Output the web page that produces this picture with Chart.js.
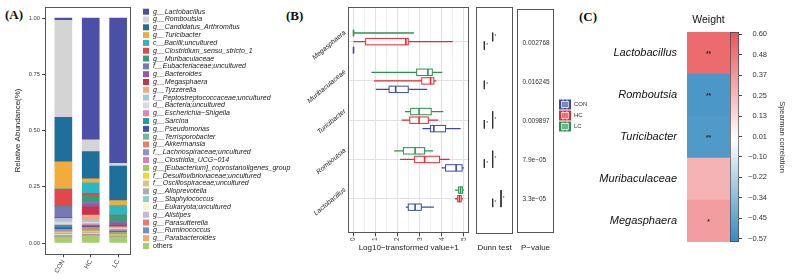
<!DOCTYPE html>
<html>
<head>
<meta charset="utf-8">
<script src="https://cdn.jsdelivr.net/npm/chart.js@4.4.1/dist/chart.umd.min.js"></script>
<style>
body { margin: 0; background: #fff; width: 792px; height: 280px; overflow: hidden; position: relative; }
canvas { position: absolute; top: 0; }
.tag { position: absolute; font: bold 13px "Liberation Serif", "Times New Roman", serif; line-height: 13px; color: #111; }
</style>
</head>
<body>
<div class="tag" style="left:5px;top:8px">(A)</div>
<div class="tag" style="left:286px;top:9px">(B)</div>
<div class="tag" style="left:579px;top:10px">(C)</div>
<canvas id="stack" width="300" height="280" style="left:0"></canvas>
<canvas id="box" width="215" height="280" style="left:260px"></canvas>
<canvas id="dunn" width="45" height="280" style="left:470px"></canvas>
<canvas id="pval" width="100" height="280" style="left:505px"></canvas>
<canvas id="heat" width="140" height="280" style="left:595px"></canvas>
<canvas id="cbar" width="67" height="280" style="left:725px"></canvas>
<script>
// ---------- (A) relative abundance ----------
const taxa = ["g__Lactobacillus", "g__Romboutsia", "g__Candidatus_Arthromitus", "g__Turicibacter",
	"c__Bacilli;uncultured", "g__Clostridium_sensu_stricto_1", "g__Muribaculaceae",
	"f__Eubacteriaceae;uncultured", "g__Bacteroides", "g__Megasphaera", "g__Tyzzerella",
	"f__Peptostreptococcaceae;uncultured", "d__Bacteria;uncultured", "g__Escherichia\u2212Shigella",
	"g__Sarcina", "g__Pseudomonas", "g__Terrisporobacter", "g__Akkermansia",
	"f__Lachnospiraceae;uncultured", "g__Clostridia_UCG\u2212014", "g__[Eubacterium]_coprostanoligenes_group",
	"f__Desulfovibrionaceae;uncultured", "f__Oscillospiraceae;uncultured", "g__Alloprevotella",
	"g__Staphylococcus", "d__Eukaryota;uncultured", "g__Alistipes", "g__Parasutterella",
	"g__Ruminococcus", "g__Parabacteroides", "others"];
const taxaColors = ["#4B4FA6", "#D4D4D4", "#1F6F9C", "#F3AC3C", "#2BB6C3", "#E2474A", "#3D9B73",
	"#7679B8", "#8E5C9F", "#C9334F", "#F1A87C", "#A2C8DC", "#DADADA", "#E584AB", "#21A09B",
	"#3E56A9", "#6FBA9C", "#EE7F5C", "#8E92D0", "#D97DBB", "#9CCB5C", "#F2D23F", "#D8C28E",
	"#ADADAD", "#89D0C9", "#F7F4C8", "#BBB9DE", "#EE766B", "#6E8EC6", "#F6A863", "#A3CF6C"];
const conAbund = [0.010, 0.431, 0.198, 0.120, 0.002, 0.075, 0.003, 0.046, 0.003, 0.002, 0.002,
	0.015, 0.012, 0.002, 0.010, 0.008, 0.003, 0.002, 0.003, 0.002, 0.004, 0.002, 0.003, 0.002,
	0.003, 0.002, 0.003, 0.002, 0.003, 0.003, 0.024];
const hcAbund = [0.542, 0.052, 0.121, 0.018, 0.046, 0.013, 0.024, 0.011, 0.012, 0.037, 0.022,
	0.010, 0.007, 0.007, 0.005, 0.004, 0.004, 0.004, 0.003, 0.003, 0.004, 0.003, 0.003, 0.002,
	0.002, 0.002, 0.002, 0.002, 0.002, 0.002, 0.031];
const lcAbund = [0.646, 0.012, 0.154, 0.022, 0.042, 0.005, 0.025, 0.004, 0.012, 0.006, 0.004,
	0.004, 0.003, 0.008, 0.003, 0.003, 0.003, 0.001, 0.001, 0.003, 0.003, 0.002, 0.002, 0.002,
	0.001, 0.001, 0.001, 0.001, 0.001, 0.001, 0.024];
const sampleGroups = ["CON", "HC", "LC"];
const abundTicks = [0, 0.25, 0.5, 0.75, 1];

// ---------- (B) boxplots, Dunn test, p-values ----------
const genera = ["Megasphaera", "Muribaculaceae", "Turicibacter", "Romboutsia", "Lactobacillus"];
const groups = ["CON", "HC", "LC"];
const groupColors = ["#3C4C9E", "#E12B31", "#2A924F"];
// [min, q1, median, q3, max] for each genus, in the order of `genera`
const conStats = [[0, 0, 0, 0, 0], [1.01, 1.61, 1.91, 2.48, 3.34], [3.12, 3.49, 3.64, 4.17, 4.85],
	[3.99, 4.17, 4.65, 4.92, 5.0], [2.37, 2.48, 2.79, 3.07, 3.64]];
const hcStats = [[0, 0.55, 2.37, 2.48, 4.5], [0.93, 3.09, 3.49, 3.64, 3.75], [2.18, 2.55, 2.97, 3.39, 3.84],
	[2.11, 2.77, 3.22, 3.9, 4.35], [4.6, 4.72, 4.8, 4.88, 4.95]];
const lcStats = [[0, 0, 0, 0, 2.74], [0.81, 2.86, 3.37, 3.57, 4.02], [2.33, 2.59, 2.97, 3.52, 4.07],
	[1.84, 2.26, 2.79, 3.22, 3.6], [4.6, 4.76, 4.85, 4.94, 5.0]];
const xTicksB = [0, 0.5, 1, 1.5, 2, 2.5, 3, 3.5, 4, 4.5, 5];
// Dunn test brackets: genus index, bracket level, compared groups (index into `groups`), mark
const dunnTests = [
	{ genus: 0, level: 2, from: 2, to: 1, mark: "*" },
	{ genus: 0, level: 1, from: 1, to: 0, mark: "*" },
	{ genus: 1, level: 1, from: 1, to: 0, mark: "*" },
	{ genus: 2, level: 1, from: 1, to: 0, mark: "*" },
	{ genus: 2, level: 2, from: 2, to: 0, mark: "*" },
	{ genus: 3, level: 1, from: 1, to: 0, mark: "*" },
	{ genus: 3, level: 2, from: 2, to: 0, mark: "*" },
	{ genus: 4, level: 2, from: 1, to: 0, mark: "*" },
	{ genus: 4, level: 3, from: 2, to: 0, mark: "*" },
];
const pValues = ["0.002768", "0.016245", "0.009897", "7.9e\u221205", "3.3e\u221205"];

// ---------- (C) Spearman heatmap ----------
const heatRows = ["Lactobacillus", "Romboutsia", "Turicibacter", "Muribaculaceae", "Megasphaera"];
const heatValues = [0.53, -0.52, -0.51, 0.27, 0.35];
const heatStars = ["**", "**", "**", "", "*"];
const cbarMin = -0.589;
const cbarMax = 0.613;
const cbarTicks = [0.60, 0.483, 0.366, 0.249, 0.132, 0.015, -0.102, -0.219, -0.336, -0.453, -0.57];
const cbarLabels = ["0.60", "0.48", "0.37", "0.25", "0.13", "0.01", "\u22120.10", "\u22120.22", "\u22120.34", "\u22120.45", "\u22120.57"];

Chart.defaults.font.family = '"Liberation Sans", Arial, sans-serif';
Chart.defaults.color = "#333";
Chart.defaults.animation = false;
Chart.defaults.responsive = false;
Chart.defaults.plugins.legend.display = false;
Chart.defaults.plugins.tooltip.enabled = false;

const FONT = '"Liberation Sans", Arial, sans-serif';
const yRangeB = [-0.88, 4.88];
const groupOffset = [0.215, 0, -0.22];

const panelFrame = {
	id: "panelFrame",
	afterDraw(chart) {
		const { ctx, chartArea: a } = chart;
		ctx.save();
		ctx.strokeStyle = "#555";
		ctx.lineWidth = 1;
		ctx.strokeRect(Math.round(a.left) + 0.5, Math.round(a.top) + 0.5,
			Math.round(a.right - a.left) - 1, Math.round(a.bottom - a.top) - 1);
		ctx.restore();
	},
};

function corrColor(v) {
	const hi = [232, 87, 91], lo = [58, 142, 195];
	const t = v >= 0 ? Math.min(1, v / 0.6) : Math.min(1, -v / 0.57);
	const end = v >= 0 ? hi : lo;
	const c = end.map((e) => Math.round(255 + (e - 255) * t));
	return `rgb(${c.join(",")})`;
}

// ---------- chart A ----------
const stackLegend = {
	id: "stackLegend",
	afterDraw(chart) {
		const ctx = chart.ctx;
		ctx.save();
		ctx.textBaseline = "middle";
		taxa.forEach((name, i) => {
			const y = 11.7 + i * 7.81;
			ctx.fillStyle = taxaColors[i];
			ctx.fillRect(143, y - 3, 6, 6);
			ctx.fillStyle = "#222";
			ctx.font = (name === "others" ? "" : "italic ") + "7px " + FONT;
			ctx.fillText(name, 153, y);
		});
		ctx.restore();
	},
};

new Chart(document.getElementById("stack"), {
	type: "bar",
	data: {
		datasets: taxa.map((name, i) => ({
			label: name,
			data: [conAbund[i], hcAbund[i], lcAbund[i]].map((v, k) => ({ x: k, y: v })),
			backgroundColor: taxaColors[i],
			barThickness: 17,
		})).reverse(),
	},
	options: {
		devicePixelRatio: 1,
		layout: { padding: { top: 6.75, right: 169 } },
		scales: {
			x: {
				type: "linear",
				offset: false,
				stacked: true,
				min: -0.67,
				max: 2.47,
				afterBuildTicks: (s) => { s.ticks = sampleGroups.map((_, k) => ({ value: k })); },
				ticks: { callback: (v) => sampleGroups[v], minRotation: 60, maxRotation: 60, autoSkip: false, font: { size: 6.5 }, color: "#444", padding: 1 },
				grid: { offset: false, drawOnChartArea: false, tickLength: 3, tickColor: "#444" },
				border: { display: false },
				afterFit: (s) => { s.height = 25.75; },
			},
			y: {
				stacked: true,
				min: -0.05,
				max: 1.05,
				afterBuildTicks: (s) => { s.ticks = abundTicks.map((v) => ({ value: v })); },
				ticks: { callback: (v) => v.toFixed(2), font: { size: 5.8 }, color: "#444", padding: 2 },
				grid: { drawOnChartArea: false, tickLength: 3, tickColor: "#444" },
				border: { display: false },
				title: { display: true, text: "Relative Abundance(%)", font: { size: 8 }, color: "#222", padding: { top: 13.2, bottom: 0 } },
				afterFit: (s) => { s.width = 45; },
			},
		},
	},
	plugins: [panelFrame, stackLegend],
});

// ---------- chart B ----------
const groupStats = [conStats, hcStats, lcStats];
const boxWhiskers = {
	id: "boxWhiskers",
	beforeDatasetsDraw(chart) {
		const { ctx, scales: { x, y } } = chart;
		ctx.save();
		groupStats.forEach((stats, g) => {
			stats.forEach((s, i) => {
				const py = y.getPixelForValue(i + groupOffset[g]);
				const [lo, q1, , q3, hi] = s.map((v) => x.getPixelForValue(v));
				ctx.strokeStyle = groupColors[g];
				ctx.lineWidth = 1.3;
				ctx.beginPath();
				ctx.moveTo(lo, py); ctx.lineTo(q1, py);
				ctx.moveTo(q3, py); ctx.lineTo(hi, py);
				ctx.stroke();
				ctx.fillStyle = "rgba(255,255,255,0.9)";
				ctx.fillRect(q1, py - 3.2, q3 - q1, 6.4);
				ctx.lineWidth = 1;
				ctx.strokeRect(q1, py - 3.2, q3 - q1, 6.4);
			});
		});
		ctx.restore();
	},
};

new Chart(document.getElementById("box"), {
	type: "scatter",
	data: {
		datasets: groups.map((g, k) => ({
			label: g,
			data: groupStats[k].map((s, i) => ({ x: s[2], y: i + groupOffset[k] })),
			pointStyle: "line",
			pointRotation: 90,
			pointRadius: 3.3,
			pointBorderWidth: 1.6,
			pointBorderColor: groupColors[k],
			pointBackgroundColor: groupColors[k],
		})),
	},
	options: {
		devicePixelRatio: 1,
		layout: { padding: { top: 6.7, right: 4.3 } },
		scales: {
			x: {
				type: "linear",
				min: -0.25,
				max: 5.25,
				afterBuildTicks: (s) => { s.ticks = xTicksB.map((v) => ({ value: v })); },
				ticks: { callback: (v) => (Number.isInteger(v) ? String(v) : ""), font: { size: 6.5 }, color: "#444", minRotation: 90, maxRotation: 90, autoSkip: false, padding: 1 },
				grid: {
					color: (c) => (Number.isInteger(c.tick.value) ? "#E2E2E2" : "#F0F0F0"),
					tickLength: 3,
					tickColor: (c) => (Number.isInteger(c.tick.value) ? "#444" : "rgba(0,0,0,0)"),
				},
				border: { display: false },
				title: { display: true, text: "Log10\u2212transformed value+1", font: { size: 8 }, color: "#222", padding: { top: 0, bottom: 27.2 } },
				afterFit: (s) => { s.height = 46.7; },
			},
			y: {
				type: "linear",
				reverse: true,
				min: yRangeB[0],
				max: yRangeB[1],
				afterBuildTicks: (s) => { s.ticks = genera.map((_, i) => ({ value: i })); },
				ticks: { display: false },
				grid: { color: "#E2E2E2", drawTicks: false },
				border: { display: false },
				afterFit: (s) => { s.width = 0; },
			},
			y2: {
				type: "linear",
				position: "left",
				reverse: true,
				min: yRangeB[0] + 0.25,
				max: yRangeB[1] + 0.25,
				afterBuildTicks: (s) => { s.ticks = genera.map((_, i) => ({ value: i })); },
				ticks: { callback: (v) => genera[v], font: { size: 6.8, style: "italic" }, color: "#222", minRotation: 40, maxRotation: 40, autoSkip: false, padding: 3 },
				grid: { display: false, drawTicks: false },
				border: { display: false },
				afterFit: (s) => { s.width = 88; },
			},
		},
	},
	plugins: [boxWhiskers, panelFrame],
});

// ---------- Dunn test panel ----------
const dunnMarks = {
	id: "dunnMarks",
	afterDatasetsDraw(chart) {
		const { ctx, scales: { x, y } } = chart;
		ctx.save();
		ctx.font = "4.5px " + FONT;
		ctx.fillStyle = "#333";
		ctx.textBaseline = "middle";
		dunnTests.forEach((t) => {
			const mid = (y.getPixelForValue(t.genus + groupOffset[t.from]) + y.getPixelForValue(t.genus + groupOffset[t.to])) / 2;
			ctx.fillText(t.mark, x.getPixelForValue(t.level) + 1.8, mid);
		});
		ctx.restore();
	},
};

new Chart(document.getElementById("dunn"), {
	type: "scatter",
	data: {
		datasets: dunnTests.map((t) => ({
			data: [
				{ x: t.level, y: t.genus + groupOffset[t.from] },
				{ x: t.level, y: t.genus + groupOffset[t.to] },
			],
			showLine: true,
			borderColor: "#333",
			borderWidth: 1,
			pointRadius: 0,
		})),
	},
	options: {
		devicePixelRatio: 1,
		layout: { padding: { top: 6.7, left: 6, right: 2 } },
		scales: {
			x: {
				type: "linear", min: 0, max: 4.44,
				ticks: { display: false }, grid: { display: false }, border: { display: false },
				title: { display: true, text: "Dunn test", font: { size: 8 }, color: "#222", padding: { top: 0, bottom: 27.2 } },
				afterFit: (s) => { s.height = 46.7; },
			},
			y: { display: false, type: "linear", reverse: true, min: yRangeB[0], max: yRangeB[1] },
		},
	},
	plugins: [dunnMarks, panelFrame],
});

// ---------- P-value panel + group legend ----------
const groupLegend = {
	id: "groupLegend",
	afterDraw(chart) {
		const ctx = chart.ctx;
		ctx.save();
		groups.forEach((g, k) => {
			const y = 104.5 + k * 11;
			ctx.fillStyle = groupColors[k];
			ctx.fillRect(54, y - 5, 12, 10);
			ctx.strokeStyle = "rgba(255,255,255,0.85)";
			ctx.lineWidth = 0.8;
			ctx.strokeRect(56.5, y - 3, 7, 6);
			ctx.beginPath();
			ctx.moveTo(60, y - 3); ctx.lineTo(60, y + 3);
			ctx.moveTo(58, y - 5); ctx.lineTo(58, y + 5);
			ctx.moveTo(62, y - 5); ctx.lineTo(62, y + 5);
			ctx.stroke();
			ctx.fillStyle = "#333";
			ctx.font = "6px " + FONT;
			ctx.textBaseline = "middle";
			ctx.fillText(g, 69, y);
		});
		ctx.restore();
	},
};

new Chart(document.getElementById("pval"), {
	type: "scatter",
	data: { datasets: [] },
	options: {
		devicePixelRatio: 1,
		layout: { padding: { top: 6.7, right: 51 } },
		scales: {
			x: {
				type: "linear", min: 0, max: 1,
				ticks: { display: false }, grid: { display: false }, border: { display: false },
				title: { display: true, text: "P\u2212value", font: { size: 8 }, color: "#222", padding: { top: 0, bottom: 27.2 } },
				afterFit: (s) => { s.height = 46.7; },
			},
			y: {
				type: "linear", reverse: true, min: yRangeB[0], max: yRangeB[1],
				afterBuildTicks: (s) => { s.ticks = genera.map((_, i) => ({ value: i })); },
				ticks: { callback: (v) => pValues[v], mirror: true, padding: 5.5, font: { size: 6.5 }, color: "#333" },
				grid: { display: false, drawTicks: false },
				border: { display: false },
				afterFit: (s) => { s.width = 12; },
			},
		},
	},
	plugins: [panelFrame, groupLegend],
});

// ---------- chart C heatmap ----------
const heatStarsPlugin = {
	id: "heatStars",
	afterDatasetsDraw(chart) {
		const ctx = chart.ctx;
		ctx.save();
		ctx.font = "bold 6.5px " + FONT;
		ctx.fillStyle = "#3a2222";
		ctx.textAlign = "center";
		ctx.textBaseline = "middle";
		chart.getDatasetMeta(0).data.forEach((bar, i) => {
			ctx.fillText(heatStars[i], (bar.x + bar.base) / 2, bar.y + 1);
		});
		ctx.restore();
	},
};

new Chart(document.getElementById("heat"), {
	type: "bar",
	data: {
		labels: heatRows,
		datasets: [{
			data: heatRows.map(() => [0, 1]),
			backgroundColor: heatValues.map(corrColor),
			barPercentage: 1,
			categoryPercentage: 1,
			borderWidth: 0,
		}],
	},
	options: {
		devicePixelRatio: 1,
		indexAxis: "y",
		layout: { padding: { right: 5, bottom: 38 } },
		scales: {
			x: {
				position: "top", min: 0, max: 1,
				ticks: { display: false }, grid: { display: false }, border: { display: false },
				title: { display: true, text: "Weight", font: { size: 10.5 }, color: "#111", padding: { top: 13.7, bottom: 0 } },
				afterFit: (s) => { s.height = 32; },
			},
			y: {
				ticks: { font: { size: 11, style: "italic" }, color: "#111", padding: 10 },
				grid: { display: false, drawTicks: false },
				border: { display: false },
				afterFit: (s) => { s.width = 92; },
			},
		},
	},
	plugins: [heatStarsPlugin],
});

// ---------- colour bar ----------
new Chart(document.getElementById("cbar"), {
	type: "bar",
	data: {
		labels: ["Spearman correlation"],
		datasets: [{
			data: [[cbarMin, cbarMax]],
			backgroundColor: (c) => {
				const chart = c.chart;
				const y = chart.scales.y;
				if (!chart.chartArea || !y) return corrColor(0);
				const top = y.getPixelForValue(cbarMax), bottom = y.getPixelForValue(cbarMin);
				const g = chart.ctx.createLinearGradient(0, top, 0, bottom);
				[cbarMax, 0.6, 0, -0.57, cbarMin].forEach((v) => {
					g.addColorStop((y.getPixelForValue(v) - top) / (bottom - top), corrColor(v));
				});
				return g;
			},
			borderColor: "#444",
			borderWidth: 1,
			borderSkipped: false,
			barPercentage: 1,
			categoryPercentage: 1,
		}],
	},
	options: {
		devicePixelRatio: 1,
		layout: { padding: { top: 32, bottom: 38, left: 5, right: 25 } },
		scales: {
			x: { display: false },
			y: {
				position: "right", min: cbarMin, max: cbarMax,
				afterBuildTicks: (s) => { s.ticks = cbarTicks.map((v) => ({ value: v })); },
				ticks: { callback: (v, i) => cbarLabels[i], crossAlign: "far", padding: 6, font: { size: 7.5 }, color: "#333" },
				grid: { drawOnChartArea: false, tickLength: 3, tickColor: "#444" },
				border: { display: false },
				title: { display: true, text: "Spearman correlation", font: { size: 7.5 }, color: "#333", padding: { top: -19.2, bottom: 0 } },
				afterFit: (s) => { s.width = 28; },
			},
		},
	},
});
</script>
</body>
</html>
